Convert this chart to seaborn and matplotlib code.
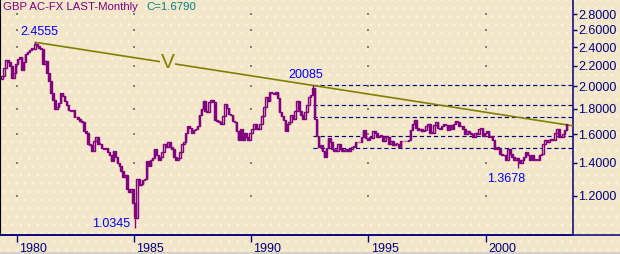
import matplotlib
matplotlib.use("Agg")
import numpy as np
import pandas as pd
import matplotlib.pyplot as plt
import matplotlib.transforms as mtrans
from matplotlib.patches import Rectangle
from matplotlib.lines import Line2D
from matplotlib.ticker import NullLocator
import seaborn as sns

# ---------------- data ----------------
title_text = "GBP AC-FX LAST-Monthly"
last_text = "C=1.6790"

start_year, start_month = 1979, 5
open_first = 2.07
close_1979 = [2.10, 2.18, 2.26, 2.24, 2.20, 2.08, 2.13, 2.22]
close_1980 = [2.27, 2.29, 2.16, 2.24, 2.32, 2.35, 2.37, 2.39, 2.38, 2.43, 2.41, 2.39]
close_1981 = [2.38, 2.22, 2.25, 2.13, 2.05, 1.94, 1.88, 1.80, 1.82, 1.85, 1.94, 1.91]
close_1982 = [1.87, 1.83, 1.79, 1.78, 1.79, 1.73, 1.73, 1.72, 1.70, 1.69, 1.62, 1.61]
close_1983 = [1.53, 1.52, 1.48, 1.55, 1.58, 1.53, 1.53, 1.50, 1.49, 1.50, 1.47, 1.45]
close_1984 = [1.41, 1.48, 1.44, 1.40, 1.38, 1.35, 1.31, 1.32, 1.24, 1.22, 1.24, 1.16]
close_1985 = [1.08, 1.30, 1.26, 1.27, 1.29, 1.30, 1.41, 1.38, 1.42, 1.43, 1.49, 1.45]
close_1986 = [1.42, 1.44, 1.47, 1.53, 1.51, 1.54, 1.51, 1.49, 1.44, 1.42, 1.43, 1.47]
close_1987 = [1.53, 1.54, 1.61, 1.66, 1.65, 1.61, 1.63, 1.64, 1.66, 1.75, 1.80, 1.87]
close_1988 = [1.78, 1.77, 1.86, 1.88, 1.86, 1.71, 1.70, 1.69, 1.68, 1.74, 1.84, 1.81]
close_1989 = [1.76, 1.75, 1.70, 1.69, 1.62, 1.56, 1.64, 1.56, 1.61, 1.58, 1.56, 1.61]
close_1990 = [1.64, 1.68, 1.64, 1.64, 1.68, 1.74, 1.82, 1.90, 1.87, 1.95, 1.94, 1.93]
close_1991 = [1.95, 1.89, 1.77, 1.74, 1.71, 1.62, 1.68, 1.69, 1.75, 1.72, 1.78, 1.87]
close_1992 = [1.78, 1.75, 1.72, 1.77, 1.83, 1.90, 1.92, 1.98, 1.72, 1.59, 1.51, 1.52]
close_1993 = [1.48, 1.44, 1.50, 1.57, 1.54, 1.49, 1.48, 1.48, 1.53, 1.49, 1.48, 1.48]
close_1994 = [1.49, 1.48, 1.49, 1.51, 1.51, 1.54, 1.54, 1.54, 1.58, 1.63, 1.57, 1.56]
close_1995 = [1.58, 1.57, 1.62, 1.61, 1.58, 1.59, 1.59, 1.55, 1.58, 1.58, 1.53, 1.55]
close_1996 = [1.52, 1.53, 1.53, 1.51, 1.55, 1.55, 1.55, 1.55, 1.56, 1.63, 1.68, 1.71]
close_1997 = [1.65, 1.63, 1.64, 1.62, 1.63, 1.66, 1.68, 1.61, 1.61, 1.67, 1.69, 1.65]
close_1998 = [1.64, 1.66, 1.68, 1.67, 1.63, 1.67, 1.64, 1.68, 1.70, 1.69, 1.66, 1.66]
close_1999 = [1.64, 1.60, 1.62, 1.61, 1.60, 1.58, 1.61, 1.60, 1.64, 1.65, 1.59, 1.61]
close_2000 = [1.62, 1.58, 1.59, 1.56, 1.49, 1.51, 1.49, 1.46, 1.45, 1.45, 1.42, 1.49]
close_2001 = [1.46, 1.44, 1.42, 1.43, 1.42, 1.40, 1.42, 1.44, 1.47, 1.45, 1.42, 1.45]
close_2002 = [1.42, 1.42, 1.42, 1.45, 1.46, 1.53, 1.56, 1.54, 1.56, 1.56, 1.56, 1.61]
close_2003 = [1.64, 1.58, 1.58, 1.60, 1.63, 1.679]

extreme_dates = [(1980, 10), (1985, 1), (1992, 8), (2001, 5)]
extreme_values = [2.4555, 1.0345, 2.0085, 1.3678]
extreme_labels = ["2.4555", "1.0345", "20085", "1.3678"]
extreme_offsets_pt = [(2.7, 7.3), (-16.8, 2.8), (-4.8, 7.8), (-8.5, -8.0)]

trend_from = (1980, 10, 2.4555)
trend_through = (1992, 8, 2.0085)
trend_label = "V"
trend_label_date = 1986.43

fib_start = (1992, 8)
fib_levels = [2.0085, 1.835, 1.735, 1.585, 1.50]

y_ticks = [1.2, 1.4, 1.6, 1.8, 2.0, 2.2, 2.4, 2.6, 2.8]
x_ticks = [1980, 1985, 1990, 1995, 2000]
x_tick_labels = ["1980", "1985", "1990", "1995", "2000"]

# ---------------- style ----------------
bg = "#F3E6C9"
purple = "#800080"
navy = "#000080"
olive = "#808000"
blue = "#0000FF"
teal = "#008080"

sns.set_style("white", rc={"axes.facecolor": bg, "figure.facecolor": bg})
plt.rcParams["font.family"] = ["Liberation Sans", "DejaVu Sans"]

W, H = 620, 254
fig = plt.figure(figsize=(W / 100, H / 100), dpi=100, facecolor=bg)
# background texture
fig.patches.append(Rectangle((0, 0), 1, 1, transform=fig.transFigure, facecolor=bg,
                             edgecolor="none", zorder=-10))
plt.rcParams["hatch.linewidth"] = 0.6
fig.patches.append(Rectangle((0, 0), 1, 1, transform=fig.transFigure, facecolor="none",
                             edgecolor="#FBF4E6", hatch="..", lw=0, zorder=-9))
fig.patches.append(Rectangle((0, 0), 1, 2.5 / H, transform=fig.transFigure,
                             facecolor="#D6D2CA", edgecolor="none", zorder=-8))

ax = fig.add_axes([0, 19 / H, 573 / W, 235 / H])
ax.patch.set_alpha(0)

# build candle table
all_closes = (close_1979 + close_1980 + close_1981 + close_1982 + close_1983 + close_1984 +
              close_1985 + close_1986 + close_1987 + close_1988 + close_1989 + close_1990 +
              close_1991 + close_1992 + close_1993 + close_1994 + close_1995 + close_1996 +
              close_1997 + close_1998 + close_1999 + close_2000 + close_2001 + close_2002 +
              close_2003)
n = len(all_closes)
month_idx = np.arange(n) + (start_month - 1)
dates = start_year + (month_idx + 0.5) / 12.0
opens = [open_first] + all_closes[:-1]
df = pd.DataFrame({"date": dates, "open": opens, "close": all_closes})
df["high"] = df[["open", "close"]].max(axis=1)
df["low"] = df[["open", "close"]].min(axis=1)


def ym_to_date(y, m):
    return y + (m - 0.5) / 12.0


for (y, m), v in zip(extreme_dates, extreme_values):
    d = ym_to_date(y, m)
    i = int(np.argmin(np.abs(df["date"] - d)))
    df.loc[i, "high"] = max(df.loc[i, "high"], v)
    df.loc[i, "low"] = min(df.loc[i, "low"], v)

ax.set_yscale("log")
xlim = (1979.288, 2003.728)
ylim = (1.0, 2.99)

# grid dots at intersections
gx, gy = np.meshgrid(x_ticks, y_ticks)
ax.scatter(gx.ravel(), gy.ravel(), s=1.2, marker="s", color="#7F7F7F", lw=0, zorder=1)

# fib lines
fx = ym_to_date(*fib_start)
ax.hlines(fib_levels, fx, xlim[1], colors=navy, linestyles=(0, (3.6, 2.4)), lw=0.85, zorder=2)

# trend line (straight in log space)
t0 = ym_to_date(trend_from[0], trend_from[1])
t1 = ym_to_date(trend_through[0], trend_through[1])
slope = (np.log(trend_through[2]) - np.log(trend_from[2])) / (t1 - t0)
trend_df = pd.DataFrame({"date": [t0, xlim[1]],
                         "value": [trend_from[2], np.exp(np.log(trend_from[2]) + slope * (xlim[1] - t0))]})
sns.lineplot(data=trend_df, x="date", y="value", color=olive, lw=1.2, ax=ax, zorder=3)
v_val = np.exp(np.log(trend_from[2]) + slope * (trend_label_date - t0))
ax.text(trend_label_date, v_val, trend_label, color=olive, fontsize=15, ha="center", va="center",
        zorder=4, bbox=dict(facecolor=bg, edgecolor="none", pad=0.5))

# candles
width = 0.065
up = df["close"] >= df["open"]
ax.vlines(df["date"], df["low"], df["high"], color=purple, lw=1.0, zorder=5)
ax.bar(df["date"][up], (df["close"] - df["open"])[up].clip(lower=0.003), bottom=df["open"][up],
       width=width, facecolor=bg, edgecolor=purple, linewidth=1.0, zorder=6)
ax.bar(df["date"][~up], (df["open"] - df["close"])[~up].clip(lower=0.003), bottom=df["close"][~up],
       width=width, facecolor=purple, edgecolor=purple, linewidth=1.0, zorder=6)

# extreme labels
for (y, m), v, lab, off in zip(extreme_dates, extreme_values, extreme_labels, extreme_offsets_pt):
    ax.annotate(lab, xy=(ym_to_date(y, m), v), xytext=off, textcoords="offset points",
                ha="center", va="center", color=blue, fontsize=9, zorder=7)

ax.set_xlim(*xlim)
ax.set_ylim(*ylim)
ax.set_xlabel("")
ax.set_ylabel("")

# y axis on right
ax.yaxis.tick_right()
ax.set_yticks(y_ticks)
ax.set_yticklabels([f"{v:.4f}" for v in y_ticks])
ax.yaxis.set_minor_locator(NullLocator())
ax.tick_params(axis="y", which="major", direction="out", length=3, width=1, pad=1,
               colors=navy, labelsize=9, left=False, right=True)

# x axis
ax.set_xticks(x_ticks)
ax.xaxis.set_minor_locator(NullLocator())
ax.tick_params(axis="x", which="major", direction="out", length=5, width=1, color=navy,
               labelbottom=False, bottom=True)
for xt, lab in zip(x_ticks, x_tick_labels):
    tr = mtrans.offset_copy(ax.get_xaxis_transform(), fig=fig, x=1.6, y=-5.5, units="points")
    ax.text(xt, 0, lab, transform=tr, ha="left", va="top", color=navy, fontsize=9)

for s in ["top"]:
    ax.spines[s].set_visible(False)
ax.spines["right"].set_color(navy)
ax.spines["right"].set_linewidth(1.1)
ax.spines["bottom"].set_color(navy)
ax.spines["bottom"].set_linewidth(1.1)
ax.spines["left"].set_color("#000000")
ax.spines["left"].set_linewidth(0.8)
fig.lines.append(Line2D([0, 1], [19 / H, 19 / H], transform=fig.transFigure, color=navy, lw=1.1))

# title
fig.text(3 / W, 1 - 7.5 / H, title_text, color=purple, fontsize=8.2, ha="left", va="center")
fig.text(146 / W, 1 - 7.5 / H, last_text, color=teal, fontsize=8.2, ha="left", va="center")

fig.savefig("out.png", dpi=100, facecolor=bg)
